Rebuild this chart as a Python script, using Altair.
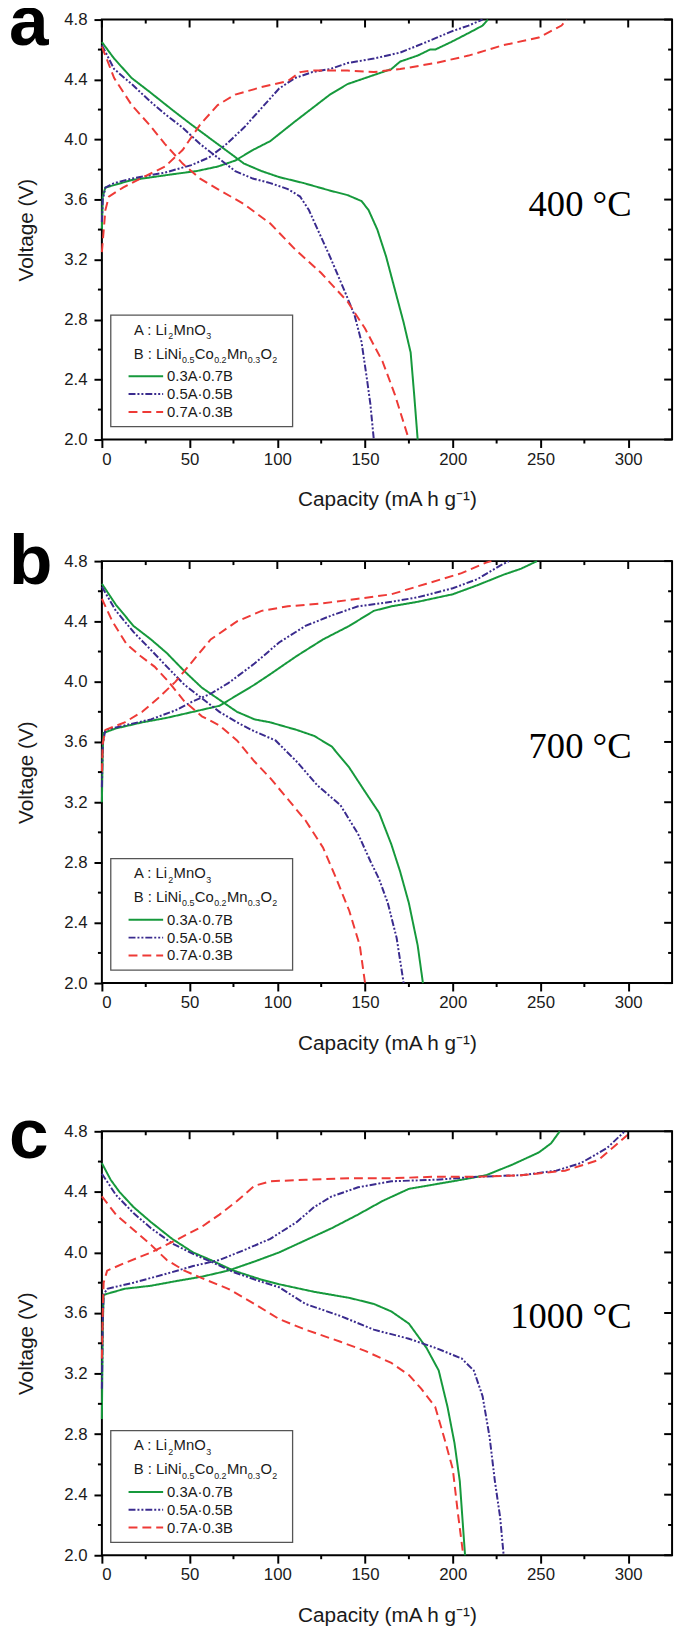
import altair as alt
import pandas as pd

COMPS = ["0.3A·0.7B", "0.5A·0.5B", "0.7A·0.3B"]
COLORS = ["#16993c", "#3a2b8e", "#ee3a36"]
DASHES = [[1, 0], [7, 2, 2, 2, 2, 2], [9, 5]]
TEMPS = ["400 °C", "700 °C", "1000 °C"]
LETTERS = ["a", "b", "c"]
X_MAJOR = [0, 50, 100, 150, 200, 250, 300]
X_MINOR = [25, 75, 125, 175, 225, 275]
Y_MAJOR = [2.0, 2.4, 2.8, 3.2, 3.6, 4.0, 4.4, 4.8]
Y_MINOR = [2.2, 2.6, 3.0, 3.4, 3.8, 4.2, 4.6]

# ---- panel a (400 C): (capacity, voltage) pairs ----
A_G_CH = [(0, 3.40), (0.5, 3.62), (2, 3.68), (17, 3.73), (41, 3.77), (54, 3.79), (66, 3.82), (76, 3.86),
          (86, 3.93), (96, 3.99), (110, 4.12), (120, 4.21), (130, 4.30), (140, 4.37), (155, 4.43),
          (165, 4.47), (170, 4.52), (180, 4.56), (187, 4.60), (190, 4.60), (199, 4.65), (209, 4.71),
          (217, 4.76), (220, 4.80)]
A_G_DIS = [(0, 4.65), (7, 4.54), (17, 4.41), (27, 4.32), (41, 4.19), (51, 4.10), (66, 3.97), (81, 3.84),
           (91, 3.79), (101, 3.75), (115, 3.71), (130, 3.66), (140, 3.63), (148, 3.59), (152, 3.53),
           (157, 3.40), (162, 3.22), (167, 3.00), (172, 2.78), (176, 2.58), (178, 2.30), (180, 2.00)]
A_B_CH = [(0, 3.45), (0.5, 3.60), (2, 3.68), (7, 3.71), (17, 3.74), (36, 3.78), (51, 3.83), (61, 3.88),
          (71, 3.97), (81, 4.08), (91, 4.21), (101, 4.34), (110, 4.41), (120, 4.45), (130, 4.47),
          (140, 4.51), (155, 4.54), (170, 4.58), (185, 4.65), (199, 4.72), (209, 4.76), (217, 4.80)]
A_B_DIS = [(0, 4.63), (7, 4.47), (17, 4.37), (27, 4.26), (36, 4.17), (46, 4.08), (56, 3.97), (66, 3.88),
           (76, 3.79), (86, 3.74), (96, 3.71), (106, 3.67), (113, 3.62), (118, 3.53), (123, 3.40),
           (130, 3.22), (138, 3.00), (144, 2.83), (148, 2.65), (151, 2.41), (153, 2.24), (155, 2.00)]
A_R_CH = [(0, 3.25), (2, 3.53), (4, 3.62), (12, 3.68), (22, 3.74), (36, 3.82), (46, 3.93), (56, 4.10),
          (66, 4.23), (76, 4.30), (91, 4.35), (106, 4.39), (113, 4.45), (120, 4.46), (140, 4.46),
          (155, 4.45), (170, 4.47), (190, 4.51), (209, 4.56), (229, 4.63), (249, 4.68), (262, 4.76),
          (265, 4.80)]
A_R_DIS = [(0, 4.62), (7, 4.41), (17, 4.23), (27, 4.10), (36, 3.97), (46, 3.84), (56, 3.74), (66, 3.67),
           (81, 3.57), (96, 3.44), (110, 3.27), (125, 3.11), (140, 2.92), (150, 2.74), (160, 2.52),
           (167, 2.30), (175, 2.00)]

# ---- panel b (700 C) ----
B_G_CH = [(0, 3.20), (0.5, 3.55), (1, 3.66), (8, 3.69), (23, 3.73), (37, 3.76), (52, 3.80), (67, 3.84),
          (77, 3.91), (87, 3.98), (96, 4.05), (111, 4.17), (126, 4.28), (141, 4.37), (155, 4.47),
          (165, 4.50), (180, 4.53), (200, 4.58), (214, 4.64), (229, 4.71), (239, 4.75), (248, 4.80)]
B_G_DIS = [(0, 4.65), (8, 4.51), (18, 4.37), (28, 4.28), (37, 4.19), (47, 4.07), (57, 3.96), (67, 3.88),
           (77, 3.80), (87, 3.75), (96, 3.73), (111, 3.68), (121, 3.64), (131, 3.57), (141, 3.43),
           (150, 3.27), (158, 3.13), (165, 2.92), (170, 2.74), (175, 2.53), (180, 2.25), (183, 2.00)]
B_B_CH = [(0, 3.30), (0.5, 3.59), (2, 3.68), (13, 3.71), (28, 3.75), (42, 3.81), (52, 3.87), (62, 3.92),
          (72, 3.99), (87, 4.12), (101, 4.26), (116, 4.37), (131, 4.44), (146, 4.50), (165, 4.53),
          (180, 4.56), (200, 4.62), (214, 4.68), (227, 4.77), (232, 4.80)]
B_B_DIS = [(0, 4.63), (8, 4.47), (18, 4.33), (28, 4.21), (37, 4.10), (47, 3.98), (57, 3.89), (67, 3.80),
           (77, 3.73), (87, 3.67), (99, 3.61), (111, 3.47), (123, 3.31), (136, 3.18), (146, 2.99),
           (153, 2.81), (158, 2.69), (163, 2.53), (168, 2.30), (172, 2.00)]
B_R_CH = [(0, 3.40), (0.5, 3.59), (2, 3.68), (13, 3.73), (23, 3.80), (32, 3.89), (42, 4.00), (52, 4.14),
          (62, 4.28), (77, 4.40), (91, 4.47), (106, 4.50), (126, 4.52), (146, 4.55), (165, 4.58),
          (185, 4.65), (205, 4.72), (219, 4.79), (222, 4.80)]
B_R_DIS = [(0, 4.55), (6, 4.40), (14, 4.25), (22, 4.17), (30, 4.10), (38, 4.00), (47, 3.87), (57, 3.77),
           (67, 3.71), (77, 3.61), (87, 3.47), (96, 3.36), (106, 3.22), (116, 3.08), (126, 2.90),
           (133, 2.71), (141, 2.48), (147, 2.25), (150, 2.00)]

# ---- panel c (1000 C) ----
C_G_CH = [(0, 2.90), (0.5, 3.50), (1, 3.72), (13, 3.76), (28, 3.78), (42, 3.81), (57, 3.84), (72, 3.88),
          (87, 3.94), (101, 4.00), (116, 4.08), (131, 4.16), (146, 4.25), (160, 4.34), (175, 4.42),
          (190, 4.45), (205, 4.48), (219, 4.51), (234, 4.58), (249, 4.66), (256, 4.72), (261, 4.80)]
C_G_DIS = [(0, 4.59), (5, 4.48), (10, 4.40), (18, 4.30), (28, 4.20), (40, 4.09), (52, 4.00), (62, 3.95),
           (75, 3.88), (91, 3.82), (101, 3.79), (121, 3.74), (141, 3.70), (155, 3.66), (165, 3.61),
           (175, 3.53), (185, 3.37), (192, 3.22), (197, 2.98), (201, 2.74), (204, 2.49), (207, 2.00)]
C_B_CH = [(0, 3.10), (0.5, 3.55), (1, 3.72), (3, 3.76), (18, 3.80), (37, 3.86), (52, 3.91), (67, 3.95),
          (82, 4.02), (96, 4.09), (111, 4.20), (121, 4.30), (131, 4.37), (146, 4.43), (165, 4.47),
          (190, 4.48), (214, 4.50), (239, 4.51), (259, 4.54), (273, 4.59), (288, 4.69), (298, 4.80)]
C_B_DIS = [(0, 4.52), (8, 4.38), (18, 4.26), (28, 4.16), (40, 4.06), (52, 3.99), (62, 3.94), (75, 3.87),
           (90, 3.81), (101, 3.77), (116, 3.66), (136, 3.58), (155, 3.49), (175, 3.43), (190, 3.37),
           (205, 3.30), (212, 3.22), (217, 3.05), (221, 2.78), (224, 2.49), (227, 2.25), (229, 2.00)]
C_R_CH = [(0, 3.30), (0.5, 3.60), (1, 3.80), (3, 3.88), (13, 3.93), (28, 4.00), (42, 4.08), (57, 4.17),
          (67, 4.25), (77, 4.34), (87, 4.44), (96, 4.47), (116, 4.48), (141, 4.49), (165, 4.49),
          (190, 4.50), (214, 4.50), (239, 4.51), (264, 4.54), (283, 4.61), (293, 4.71), (302, 4.80)]
C_R_DIS = [(0, 4.37), (8, 4.25), (18, 4.15), (28, 4.05), (37, 3.95), (47, 3.88), (57, 3.83), (72, 3.76),
           (87, 3.66), (101, 3.56), (116, 3.49), (136, 3.41), (150, 3.35), (165, 3.27), (175, 3.19),
           (182, 3.10), (190, 2.98), (195, 2.78), (200, 2.57), (203, 2.27), (206, 2.00)]

PANEL_CURVES = [
    [(A_G_CH, A_G_DIS), (A_B_CH, A_B_DIS), (A_R_CH, A_R_DIS)],
    [(B_G_CH, B_G_DIS), (B_B_CH, B_B_DIS), (B_R_CH, B_R_DIS)],
    [(C_G_CH, C_G_DIS), (C_B_CH, C_B_DIS), (C_R_CH, C_R_DIS)],
]

LEG_L1 = [("A : Li", False), ("2", True), ("MnO", False), ("3", True)]
LEG_L2 = [("B : LiNi", False), ("0.5", True), ("Co", False), ("0.2", True),
          ("Mn", False), ("0.3", True), ("O", False), ("2", True)]

W = 577
HEIGHTS = [425, 427, 429]
LETTER_Y = [26, 23, 27]
FONT = "Liberation Sans"
X_TITLE = "Capacity (mA h g⁻¹)"
Y_TITLE = "Voltage (V)"

xs = alt.Scale(domain=[0, 325], nice=False, zero=False)
ys = alt.Scale(domain=[2.0, 4.8], nice=False, zero=False)
XAXIS = alt.Axis(values=X_MAJOR, format="d", tickSize=8, tickWidth=2, tickColor="black",
                 domain=False, grid=False, labelPadding=4, titlePadding=22,
                 labelFontSize=17, titleFontSize=21)
YAXIS = alt.Axis(values=Y_MAJOR, format=".1f", tickSize=8, tickWidth=2, tickColor="black",
                 domain=False, grid=False, labelPadding=7, titlePadding=28,
                 labelFontSize=17, titleFontSize=21)


def X(field):
    return alt.X(field, type="quantitative", scale=xs, title=X_TITLE, axis=XAXIS)


def Y(field):
    return alt.Y(field, type="quantitative", scale=ys, title=Y_TITLE, axis=YAXIS)


def one(text):
    return pd.DataFrame({"t": [text]})


def make_panel(idx):
    H = HEIGHTS[idx]
    rows = []
    for ci, (ch, dis) in enumerate(PANEL_CURVES[idx]):
        for kind, pts in (("charge", ch), ("discharge", dis)):
            for i, (c, v) in enumerate(pts):
                rows.append({"comp": COMPS[ci], "curve": COMPS[ci] + kind, "i": i, "cap": c, "v": v})
    df = pd.DataFrame(rows)

    lines = alt.Chart(df).mark_line(strokeWidth=2).encode(
        x=X("cap"),
        y=Y("v"),
        color=alt.Color("comp:N", scale=alt.Scale(domain=COMPS, range=COLORS), legend=None),
        strokeDash=alt.StrokeDash("comp:N", scale=alt.Scale(domain=COMPS, range=DASHES), legend=None),
        detail="curve:N",
        order="i:Q",
    )

    layers = [lines]
    xmin = pd.DataFrame({"cap": X_MINOR})
    xmaj = pd.DataFrame({"cap": X_MAJOR})
    ymin = pd.DataFrame({"v": Y_MINOR})
    ymaj = pd.DataFrame({"v": Y_MAJOR})
    rule = dict(color="black", strokeWidth=2)
    # bottom minor (outward), top major/minor (inward)
    layers.append(alt.Chart(xmin).mark_rule(**rule).encode(
        x=X("cap"), y=alt.value(H), y2=alt.value(H + 4)))
    layers.append(alt.Chart(xmaj).mark_rule(**rule).encode(
        x=X("cap"), y=alt.value(0), y2=alt.value(8)))
    layers.append(alt.Chart(xmin).mark_rule(**rule).encode(
        x=X("cap"), y=alt.value(0), y2=alt.value(4)))
    # left minor (outward), right major/minor (inward)
    layers.append(alt.Chart(ymin).mark_rule(**rule).encode(
        y=Y("v"), x=alt.value(-4), x2=alt.value(0)))
    layers.append(alt.Chart(ymaj).mark_rule(**rule).encode(
        y=Y("v"), x=alt.value(W - 8), x2=alt.value(W)))
    layers.append(alt.Chart(ymin).mark_rule(**rule).encode(
        y=Y("v"), x=alt.value(W - 4), x2=alt.value(W)))

    # legend box
    bx, by = 9, H - 126
    layers.append(alt.Chart(one("box")).mark_rect(fill="white", stroke="#555555", strokeWidth=1.3).encode(
        x=alt.value(bx), x2=alt.value(bx + 184), y=alt.value(by), y2=alt.value(by + 113)))
    for line, base_y, xs_pos in ((LEG_L1, by + 20, [23.6, 58.2, 63.6, 96.5]),
                                 (LEG_L2, by + 44, [23.3, 72.1, 85.0, 104.6, 117.5, 138.7, 151.6, 163.5])):
        for (txt, sub), px in zip(line, xs_pos):
            layers.append(alt.Chart(one(txt)).mark_text(
                align="left", baseline="alphabetic", font=FONT, fontSize=9 if sub else 15,
                color="#1a1a1a").encode(
                x=alt.value(bx + px), y=alt.value(base_y + (4.5 if sub else 0)), text="t:N"))
    for ci, comp in enumerate(COMPS):
        yy = by + 62 + 18 * ci
        layers.append(alt.Chart(one(comp)).mark_rule(strokeWidth=2).encode(
            x=alt.value(bx + 18), x2=alt.value(bx + 53), y=alt.value(yy),
            color=alt.value(COLORS[ci]), strokeDash=alt.value(DASHES[ci])))
        layers.append(alt.Chart(one(comp)).mark_text(
            align="left", baseline="middle", font=FONT, fontSize=15, color="#1a1a1a").encode(
            x=alt.value(bx + 57), y=alt.value(yy), text="t:N"))

    # temperature label
    layers.append(alt.Chart(one(TEMPS[idx])).mark_text(
        align="right", baseline="middle", font="Liberation Serif", fontSize=37, color="black").encode(
        x=alt.value(536), y=alt.value(188), text="t:N"))
    # panel letter
    layers.append(alt.Chart(one(LETTERS[idx])).mark_text(
        align="left", baseline="alphabetic", font=FONT, fontSize=72, fontWeight="bold",
        color="black").encode(x=alt.value(-94), y=alt.value(LETTER_Y[idx]), text="t:N"))

    return alt.layer(*layers).properties(width=W, height=H)


pa, pb, pc = (make_panel(i) for i in range(3))
inner = alt.vconcat(pa, pb, spacing=15)
chart = alt.vconcat(inner, pc, spacing=46).properties(
    padding={"left": 0, "top": -31, "right": 4, "bottom": 0},
    background="white",
).configure_view(stroke="black", strokeWidth=2).configure_axis(
    labelFont=FONT, titleFont=FONT, labelColor="#1a1a1a", titleColor="#1a1a1a",
    titleFontWeight="normal",
)

chart.save("out.html", embed_options={"renderer": "svg", "actions": False})
